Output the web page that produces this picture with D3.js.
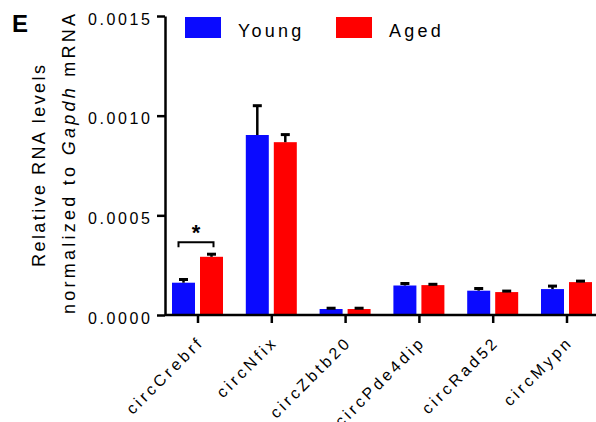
<!DOCTYPE html>
<html>
<head>
<meta charset="utf-8">
<script src="https://cdn.jsdelivr.net/npm/d3@7"></script>
<style>
  html, body { margin: 0; padding: 0; background: #fff; }
  svg { display: block; font-family: "Liberation Sans", Arial, Helvetica, sans-serif; }
</style>
</head>
<body>
<svg id="chart" width="596" height="422"></svg>
<script>
// ---- data ----
const categories = ["circCrebrf", "circNfix", "circZbtb20", "circPde4dip", "circRad52", "circMypn"];
const youngMean = [0.000162, 0.000903, 0.000030, 0.000148, 0.000122, 0.000130];
const youngSem  = [0.000016, 0.000147, 0.000004, 0.000010, 0.000011, 0.000015];
const agedMean  = [0.000292, 0.000867, 0.000030, 0.000150, 0.000115, 0.000165];
const agedSem   = [0.000013, 0.000038, 0.000004, 0.000004, 0.000005, 0.000005];
const seriesNames = ["Young", "Aged"];
const yTicks = [0, 0.0005, 0.0010, 0.0015];
const yTickLabels = ["0.0000", "0.0005", "0.0010", "0.0015"];
const significant = ["circCrebrf"];

// ---- layout ----
const svg = d3.select("#chart");
const BLUE = "#0a0aff", RED = "#ff0000";
const x0 = 165, yBottom = 315, yTop = 16, xRight = 596;

const y = d3.scaleLinear().domain([0, 0.0015]).range([yBottom, yTop]);
const x = d3.scalePoint().domain(categories).range([197.5, 566.5]);
const sub = d3.scaleOrdinal().domain(seriesNames).range([-14, 14]);
const color = d3.scaleOrdinal().domain(seriesNames).range([BLUE, RED]);
const barW = 23;

const rows = [];
categories.forEach((c, i) => {
  rows.push({cat: c, s: "Young", v: youngMean[i], e: youngSem[i]});
  rows.push({cat: c, s: "Aged", v: agedMean[i], e: agedSem[i]});
});

// bars
svg.append("g").selectAll("rect").data(rows).join("rect")
  .attr("x", d => x(d.cat) + sub(d.s) - barW / 2)
  .attr("width", barW)
  .attr("y", d => y(d.v))
  .attr("height", d => y(0) - y(d.v))
  .attr("fill", d => color(d.s));

// error bars
const eg = svg.append("g").attr("stroke", "#000");
eg.selectAll("line.v").data(rows).join("line").attr("class", "v")
  .attr("x1", d => x(d.cat) + sub(d.s)).attr("x2", d => x(d.cat) + sub(d.s))
  .attr("y1", d => y(d.v)).attr("y2", d => y(d.v + d.e))
  .attr("stroke-width", 2.5);
eg.selectAll("line.c").data(rows).join("line").attr("class", "c")
  .attr("x1", d => x(d.cat) + sub(d.s) - 4.5).attr("x2", d => x(d.cat) + sub(d.s) + 4.5)
  .attr("y1", d => y(d.v + d.e)).attr("y2", d => y(d.v + d.e))
  .attr("stroke-width", 3);

// y axis
const yAxis = d3.axisLeft(y).tickValues(yTicks).tickFormat((d, i) => yTickLabels[i]).tickSize(8).tickSizeOuter(0);
const gy = svg.append("g").attr("transform", `translate(${x0},0)`).call(yAxis);
gy.select(".domain").attr("stroke-width", 2.5);
gy.selectAll(".tick line").attr("stroke-width", 2.5);
gy.selectAll(".tick text")
  .attr("x", -12.5)
  .attr("dy", "0.5em")
  .attr("font-size", 16)
  .attr("letter-spacing", 2.6)
  .attr("font-family", "Liberation Sans, Arial, sans-serif")
  .attr("fill", "#000");

// x axis
const xAxis = d3.axisBottom(x).tickSize(8).tickSizeOuter(0);
const gx = svg.append("g").attr("transform", `translate(0,${yBottom})`).call(xAxis);
gx.select(".domain").attr("d", `M${x0},0H${xRight}`).attr("stroke-width", 2.5);
gx.selectAll(".tick line").attr("stroke-width", 2.5);
gx.selectAll(".tick text")
  .attr("font-size", 16)
  .attr("letter-spacing", 3.3)
  .attr("font-family", "Liberation Sans, Arial, sans-serif")
  .attr("fill", "#000")
  .attr("text-anchor", "end")
  .attr("y", 0).attr("dy", 0)
  .attr("transform", "translate(7,28) rotate(-45)");

// y title
const tl = svg.append("g").attr("font-size", 18).attr("fill", "#000");
tl.append("text")
  .attr("transform", "translate(45,166) rotate(-90)")
  .attr("text-anchor", "middle")
  .attr("textLength", 202).attr("lengthAdjust", "spacing")
  .text("Relative RNA levels");
const t2 = tl.append("text")
  .attr("transform", "translate(75,164) rotate(-90)")
  .attr("text-anchor", "middle")
  .attr("textLength", 300).attr("lengthAdjust", "spacing");
t2.append("tspan").text("normalized to ");
t2.append("tspan").attr("font-style", "italic").text("Gapdh");
t2.append("tspan").text(" mRNA");

// panel letter
svg.append("text").attr("x", 12).attr("y", 32)
  .attr("font-size", 24).attr("font-weight", "bold").text("E");

// legend
const lg = svg.append("g").selectAll("g").data(seriesNames).join("g")
  .attr("transform", (d, i) => `translate(${185 + i * 151},17)`);
lg.append("rect").attr("width", 36).attr("height", 21).attr("fill", d => color(d));
lg.append("text").attr("x", 53).attr("y", 20)
  .attr("font-size", 18).attr("letter-spacing", 3.2).text(d => d);

// significance bracket
significant.forEach(c => {
  const i = categories.indexOf(c);
  const top = Math.max(youngMean[i] + youngSem[i], agedMean[i] + agedSem[i]);
  const by = y(top) - 12;
  const xa = x(c) + sub("Young") - 5, xb = x(c) + sub("Aged") + 2;
  svg.append("path")
    .attr("d", `M${xa},${by + 5}V${by}H${xb}V${by + 5}`)
    .attr("fill", "none").attr("stroke", "#000").attr("stroke-width", 2);
  svg.append("text").attr("x", (xa + xb) / 2).attr("y", by - 2)
    .attr("text-anchor", "middle").attr("font-size", 22).attr("font-weight", "bold")
    .text("*");
});
</script>
</body>
</html>
